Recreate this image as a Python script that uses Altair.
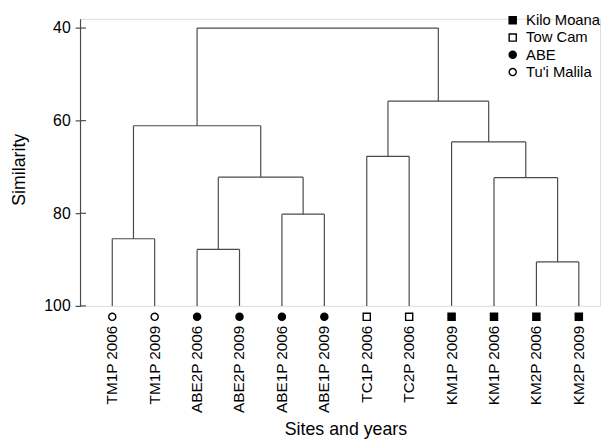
import altair as alt
import pandas as pd

# ---- data ----
leaf_labels = ["TM1P 2006", "TM1P 2009", "ABE2P 2006", "ABE2P 2009", "ABE1P 2006",
               "ABE1P 2009", "TC1P 2006", "TC2P 2006", "KM1P 2009", "KM1P 2006",
               "KM2P 2006", "KM2P 2009"]
leaf_sites = ["Tu'i Malila", "Tu'i Malila", "ABE", "ABE", "ABE", "ABE",
              "Tow Cam", "Tow Cam", "Kilo Moana", "Kilo Moana", "Kilo Moana", "Kilo Moana"]
leaf_similarity = 100
# merges: node ids 0..11 are leaves, merge k creates node 12+k
merge_left = [0, 2, 4, 13, 12, 6, 10, 9, 8, 17, 16]
merge_right = [1, 3, 5, 14, 15, 7, 11, 18, 19, 20, 21]
merge_similarity = [85.5, 87.8, 80.2, 72.2, 61.1, 67.7, 90.5, 72.3, 64.6, 55.8, 40.0]

site_order = ["Kilo Moana", "Tow Cam", "ABE", "Tu'i Malila"]
site_shapes = ["square", "square", "circle", "circle"]
site_fills = ["black", "white", "black", "white"]
site_strokes = ["black", "black", "black", "black"]
y_ticks = [40, 60, 80, 100]

# ---- build dendrogram segments from the linkage ----
pos = [i + 1 for i in range(len(leaf_labels))]
hgt = [leaf_similarity] * len(leaf_labels)
for l, r, s in zip(merge_left, merge_right, merge_similarity):
    pos.append((pos[l] + pos[r]) / 2)
    hgt.append(s)

rows = []
for k, (l, r, s) in enumerate(zip(merge_left, merge_right, merge_similarity)):
    for c in (l, r):
        rows.append({"x": pos[c], "x2": pos[c], "y": hgt[c], "y2": s})
    rows.append({"x": pos[l], "x2": pos[r], "y": s, "y2": s})
seg = pd.DataFrame(rows)

leaves = pd.DataFrame({
    "x": pos[:len(leaf_labels)],
    "y": [leaf_similarity] * len(leaf_labels),
    "label": leaf_labels,
    "site": leaf_sites,
})
tick_df = pd.DataFrame({"y": y_ticks})

FONT = "Liberation Sans"
LINE = "#4a4a4a"

xs = alt.Scale(domain=[0.24, 12.5], nice=False, zero=False)
ys = alt.Scale(domain=[38, 100], reverse=True, nice=False, zero=False)

x_axis = alt.Axis(title="Sites and years", labels=False, ticks=False, domain=False,
                  grid=False, titleX=269, titleY=130, titleBaseline="alphabetic",
                  titleFontSize=18, titleFontWeight="normal", titleColor="black",
                  titleFont=FONT)
y_axis = alt.Axis(title="Similarity", values=y_ticks, grid=False, tickSize=5,
                  labelPadding=5, domainColor=LINE, tickColor=LINE, domainWidth=1.2,
                  tickWidth=1.2, labelColor="black", labelFontSize=16, labelFont=FONT,
                  titleFontSize=18, titleFontWeight="normal", titleColor="black",
                  titleFont=FONT, titleX=-56, titleY=152.5, titleBaseline="alphabetic")


def X(f="x"):
    return alt.X(f"{f}:Q", scale=xs, axis=x_axis)


def Y(f="y"):
    return alt.Y(f"{f}:Q", scale=ys, axis=y_axis)


lines = alt.Chart(seg).mark_rule(color=LINE, strokeWidth=1.2).encode(
    x=X(), x2="x2:Q", y=Y(), y2="y2:Q")

inner_ticks = alt.Chart(tick_df).mark_rule(color=LINE, strokeWidth=1.2).encode(
    y=Y(), x=alt.value(0), x2=alt.value(6))

leg = alt.Legend(title=None, orient="none", legendX=431, legendY=-6, padding=0,
                 rowPadding=1.5, labelOffset=6, labelFontSize=15, labelFont=FONT,
                 labelColor="black", symbolSize=52, symbolStrokeWidth=1.4)

points = alt.Chart(leaves).mark_point(filled=True, size=52, strokeWidth=1.4,
                                      opacity=1, yOffset=11).encode(
    x=X(), y=Y(),
    shape=alt.Shape("site:N", scale=alt.Scale(domain=site_order, range=site_shapes),
                    legend=leg),
    fill=alt.Fill("site:N", scale=alt.Scale(domain=site_order, range=site_fills),
                  legend=leg),
    stroke=alt.Stroke("site:N", scale=alt.Scale(domain=site_order, range=site_strokes),
                      legend=leg),
)

labels = alt.Chart(leaves).mark_text(angle=270, align="right", baseline="middle",
                                     yOffset=20, fontSize=15.5, font=FONT,
                                     color="black").encode(
    x=X(), y=Y(), text="label:N")

chart = alt.layer(lines, inner_ticks, points, labels).properties(
    width=527, height=291,
    padding={"left": 73, "top": 8, "right": 2, "bottom": 135},
    autosize=alt.AutoSizeParams(type="none"),
).configure_view(stroke=None).configure(background="white")

chart.save("out.html", embed_options={"renderer": "svg", "actions": False})
